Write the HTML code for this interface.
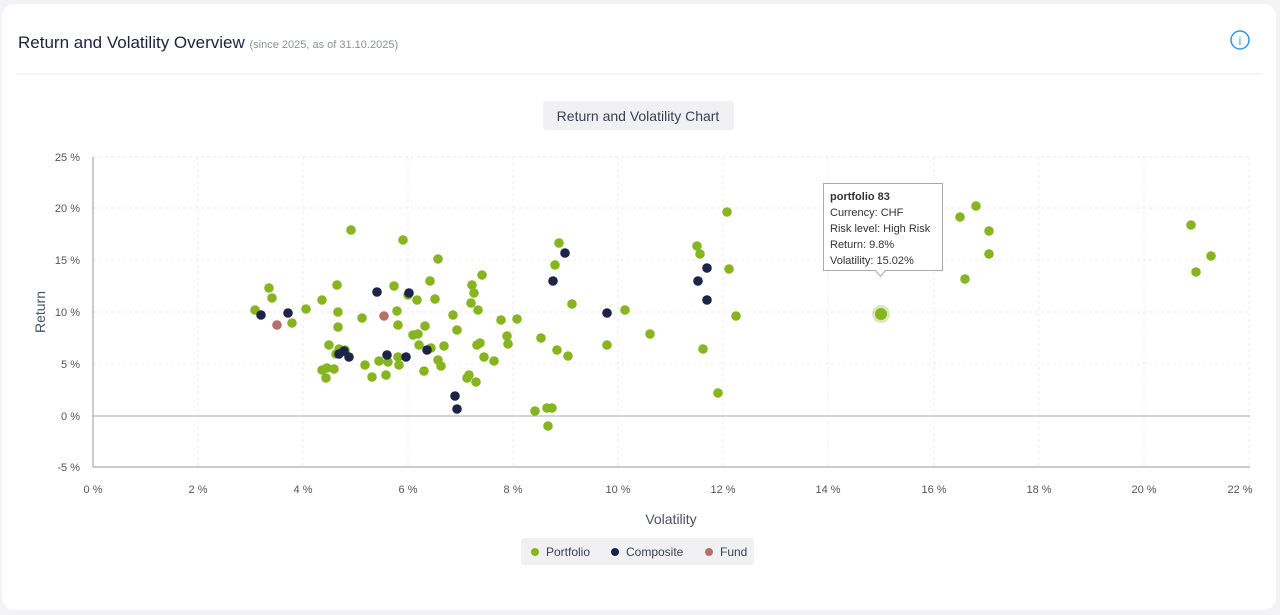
<!DOCTYPE html>
<html><head><meta charset="utf-8"><style>
body{margin:0;background:#f3f3f5;font-family:"Liberation Sans",sans-serif;}
.card{position:absolute;left:2px;top:4px;width:1274px;height:606px;background:#fff;border-radius:12px;}
</style></head><body>
<div class="card"></div>
<svg width="1280" height="615" style="position:absolute;left:0;top:0" font-family="Liberation Sans, sans-serif">
<text x="18" y="48" font-size="17" fill="#1d2240">Return and Volatility Overview <tspan font-size="11" fill="#8a8fa0">(since 2025, as of 31.10.2025)</tspan></text>
<circle cx="1240" cy="40" r="9" fill="none" stroke="#2a9be0" stroke-width="1.5"/>
<text x="1240" y="45" font-size="12" fill="#2a9be0" text-anchor="middle">i</text>
<line x1="16" y1="74" x2="1262" y2="74" stroke="#e8e8ec"/>
<rect x="543" y="101" width="191" height="29" rx="3" fill="#f1f1f4"/>
<text x="638" y="121" font-size="14" fill="#3a3f55" text-anchor="middle">Return and Volatility Chart</text>
<g stroke="#ececf0" stroke-dasharray="3,3">
<line x1="93" y1="157" x2="1250" y2="157"/><line x1="93" y1="208" x2="1250" y2="208"/><line x1="93" y1="260" x2="1250" y2="260"/><line x1="93" y1="312" x2="1250" y2="312"/><line x1="93" y1="364" x2="1250" y2="364"/>
<line x1="198" y1="157" x2="198" y2="467"/><line x1="303" y1="157" x2="303" y2="467"/><line x1="408" y1="157" x2="408" y2="467"/><line x1="513" y1="157" x2="513" y2="467"/><line x1="618" y1="157" x2="618" y2="467"/><line x1="723" y1="157" x2="723" y2="467"/><line x1="828" y1="157" x2="828" y2="467"/><line x1="934" y1="157" x2="934" y2="467"/><line x1="1039" y1="157" x2="1039" y2="467"/><line x1="1144" y1="157" x2="1144" y2="467"/><line x1="1249" y1="157" x2="1249" y2="467"/>
</g>
<line x1="93" y1="416" x2="1250" y2="416" stroke="#aaa"/>
<line x1="93" y1="467" x2="1250" y2="467" stroke="#999"/>
<line x1="93" y1="157" x2="93" y2="467" stroke="#999"/>
<g font-size="11" fill="#555" text-anchor="end">
<text x="80" y="161">25 %</text><text x="80" y="212">20 %</text><text x="80" y="264">15 %</text><text x="80" y="316">10 %</text><text x="80" y="368">5 %</text><text x="80" y="420">0 %</text><text x="80" y="471">-5 %</text>
</g>
<g font-size="11" fill="#555" text-anchor="middle">
<text x="93" y="493">0 %</text><text x="198" y="493">2 %</text><text x="303" y="493">4 %</text><text x="408" y="493">6 %</text><text x="513" y="493">8 %</text><text x="618" y="493">10 %</text><text x="723" y="493">12 %</text><text x="828" y="493">14 %</text><text x="934" y="493">16 %</text><text x="1039" y="493">18 %</text><text x="1144" y="493">20 %</text><text x="1240" y="493">22 %</text>
</g>
<text x="671" y="524" font-size="14" fill="#4a5068" text-anchor="middle">Volatility</text>
<text x="45" y="312" font-size="14" fill="#4a5068" text-anchor="middle" transform="rotate(-90 45 312)">Return</text>
<g fill="#86b520" id="g"></g>
<g fill="#1c2448" id="n"></g>
<g fill="#b5706c" id="f"><circle cx="277" cy="325" r="4.8"/><circle cx="384" cy="316" r="4.8"/></g>
<circle cx="881" cy="314" r="9" fill="#86b520" opacity="0.3"/>
<circle cx="881" cy="314" r="6" fill="#86b520"/>
<path d="M823.5,183.5 h119 v87 h-57 l-5,6 l-5,-6 h-52 z" fill="#fff" stroke="#aaa"/>
<g font-size="11" fill="#333"><text x="830" y="200" font-weight="bold">portfolio 83</text><text x="830" y="216">Currency: CHF</text><text x="830" y="232">Risk level: High Risk</text><text x="830" y="248">Return: 9.8%</text><text x="830" y="264">Volatility: 15.02%</text></g>
<rect x="521" y="538" width="233" height="27" rx="3" fill="#f1f1f4"/>
<circle cx="535" cy="552" r="4" fill="#86b520"/><text x="546" y="556" font-size="12" fill="#3a3f55">Portfolio</text>
<circle cx="615" cy="552" r="4" fill="#1c2448"/><text x="626" y="556" font-size="12" fill="#3a3f55">Composite</text>
<circle cx="709" cy="552" r="4" fill="#b5706c"/><text x="720" y="556" font-size="12" fill="#3a3f55">Fund</text>
</svg>
<script>
var G=[[255,310],[269,288],[272,298],[292,323],[306,309],[322,300],[329,345],[337,285],[338,312],[338,327],[322,370],[326,378],[327,368],[334,369],[336,354],[339,349],[345,350],[351,230],[362,318],[365,365],[372,377],[379,361],[386,375],[388,362],[394,286],[397,311],[398,325],[398,357],[399,365],[403,240],[408,295],[413,335],[417,300],[418,334],[419,345],[424,371],[425,326],[430,281],[431,348],[435,299],[438,360],[438,259],[441,366],[444,346],[453,315],[457,330],[467,378],[469,375],[471,303],[472,285],[474,293],[476,382],[477,345],[478,310],[480,343],[482,275],[484,357],[494,361],[501,320],[507,336],[508,344],[517,319],[535,411],[541,338],[547,408],[552,408],[548,426],[555,265],[557,350],[559,243],[568,356],[572,304],[607,345],[625,310],[650,334],[697,246],[700,254],[703,349],[718,393],[727,212],[729,269],[736,316],[960,217],[965,279],[976,206],[989,231],[989,254],[1191,225],[1196,272],[1211,256]];
var N=[[261,315],[288,313],[339,354],[344,351],[349,357],[377,292],[387,355],[406,357],[409,293],[427,350],[455,396],[457,409],[553,281],[565,253],[607,313],[698,281],[707,268],[707,300]];
function d(id,a){var g=document.getElementById(id),s='';a.forEach(function(p){s+='<circle cx="'+p[0]+'" cy="'+p[1]+'" r="4.8"/>';});g.innerHTML=s;}
d('g',G);d('n',N);
</script>
</body></html>
